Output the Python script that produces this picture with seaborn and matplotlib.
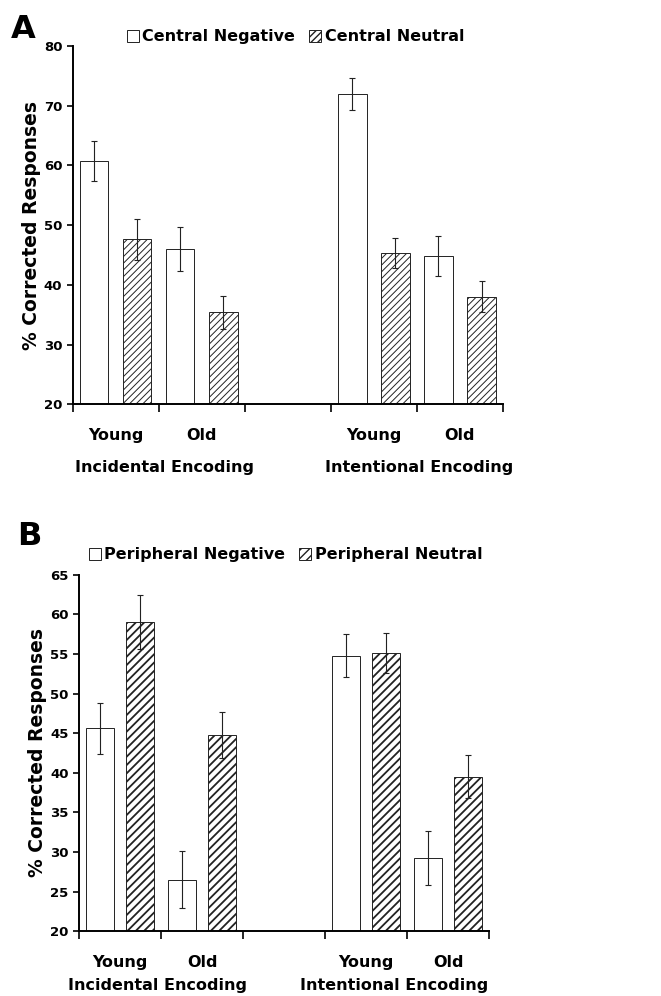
import numpy as np
import pandas as pd
import matplotlib
matplotlib.use('Agg')
import matplotlib.pyplot as plt
from matplotlib.patches import Patch
import seaborn as sns

sns.set_style('ticks')
plt.rcParams['font.family'] = ['DejaVu Sans']
plt.rcParams['font.weight'] = 'bold'
plt.rcParams['text.color'] = 'black'
plt.rcParams['axes.labelcolor'] = 'black'
plt.rcParams['xtick.color'] = 'black'
plt.rcParams['ytick.color'] = 'black'
plt.rcParams['axes.edgecolor'] = 'black'

# slots on the x axis (middle one left empty as a spacer)
slots = ['Young-Inc', 'Old-Inc', 'gap', 'Young-Int', 'Old-Int']
groups = ['Young-Inc', 'Old-Inc', 'Young-Int', 'Old-Int']

# Panel A: central details
a_labels = ['Central Negative', 'Central Neutral']
a_neg = [60.7, 46.0, 71.9, 44.8]
a_neg_err = [3.3, 3.6, 2.7, 3.4]
a_neu = [47.6, 35.4, 45.3, 38.0]
a_neu_err = [3.4, 2.8, 2.5, 2.6]

# Panel B: peripheral details
b_labels = ['Peripheral Negative', 'Peripheral Neutral']
b_neg = [45.6, 26.5, 54.8, 29.3]
b_neg_err = [3.2, 3.6, 2.7, 3.4]
b_neu = [59.0, 44.8, 55.1, 39.5]
b_neu_err = [3.4, 2.9, 2.5, 2.7]

age_labels = ['Young', 'Old', '', 'Young', 'Old']
enc_labels = ['Incidental Encoding', 'Intentional Encoding']


def panel(ax, labels, neg, neg_err, neu, neu_err, ylim, yticks, hatch, hlw,
          width, gap, enc_x, enc_y, age_y):
    df = pd.DataFrame({
        'slot': groups * 2,
        'cond': [labels[0]] * 4 + [labels[1]] * 4,
        'val': neg + neu,
        'err': neg_err + neu_err,
    })
    sns.barplot(data=df, x='slot', y='val', hue='cond', order=slots,
                hue_order=labels, palette=['white', 'white'], width=width,
                gap=gap, errorbar=None, edgecolor='#222222', linewidth=0.7,
                legend=False, ax=ax)
    # bars come in hue order: first 4 negative, then 4 neutral
    bars = [p for p in ax.patches if p.get_height() > 0]
    for i, p in enumerate(bars):
        if i >= 4:
            p.set_hatch(hatch)
            if hasattr(p, 'set_hatch_linewidth'):
                p.set_hatch_linewidth(hlw)
        xc = p.get_x() + p.get_width() / 2
        ax.errorbar(xc, df['val'][i], yerr=df['err'][i], color='#222222',
                    lw=0.8, capsize=2.5, capthick=0.8)
    ax.set_ylim(*ylim)
    ax.set_yticks(yticks)
    ax.set_xlim(-0.5, 4.5)
    ax.set_xticks(np.arange(-0.5, 5, 1.0))
    ax.set_xticklabels([])
    ax.tick_params(axis='x', length=6, width=1.2, direction='out')
    ax.tick_params(axis='y', length=4, width=1.2, labelsize=9.5)
    for s in ['left', 'bottom']:
        ax.spines[s].set_linewidth(1.4)
    sns.despine(ax=ax)
    ax.set_xlabel('')
    ax.set_ylabel('% Corrected Responses', fontsize=13.5, fontweight='bold',
                  labelpad=2)
    for i, t in enumerate(age_labels):
        ax.text(i, age_y, t, transform=ax.get_xaxis_transform(),
                ha='center', va='center', fontsize=11.5, fontweight='bold')
    for x, t in zip(enc_x, enc_labels):
        ax.text(x, enc_y, t, transform=ax.get_xaxis_transform(),
                ha='center', va='center', fontsize=11.5, fontweight='bold')
    handles = [Patch(facecolor='white', edgecolor='#222222', lw=0.7),
               Patch(facecolor='white', edgecolor='#222222', lw=0.7,
                     hatch=hatch)]
    return handles


fig = plt.figure(figsize=(6.61, 9.96), dpi=100)
ax1 = fig.add_axes([0.110, 0.594, 0.651, 0.360])
ax2 = fig.add_axes([0.1195, 0.065, 0.6205, 0.358])

h1 = panel(ax1, a_labels, a_neg, a_neg_err, a_neu, a_neu_err, (20, 80),
           np.arange(20, 81, 10), '/////', 0.7, 1.0, 0.34,
           [0.57, 3.52], -0.176, -0.088)
h2 = panel(ax2, b_labels, b_neg, b_neg_err, b_neu, b_neu_err, (20, 65),
           np.arange(20, 66, 5), '////', 1.3, 0.98, 0.31,
           [0.46, 3.34], -0.151, -0.088)

for ax, handles, labels, pos in [(ax1, h1, a_labels, (0.447, 0.963)),
                                 (ax2, h2, b_labels, (0.432, 0.443))]:
    ax.legend(handles, labels, loc='center', bbox_to_anchor=pos,
              bbox_transform=fig.transFigure, ncol=2, frameon=False,
              handlelength=0.75, handleheight=0.75, handletextpad=0.2,
              columnspacing=0.9, prop={'size': 11.5, 'weight': 'bold'})

fig.text(0.035, 0.970, 'A', fontsize=23, fontweight='bold', ha='center', va='center')
fig.text(0.044, 0.461, 'B', fontsize=23, fontweight='bold', ha='center', va='center')

fig.savefig('out.png', dpi=100)
